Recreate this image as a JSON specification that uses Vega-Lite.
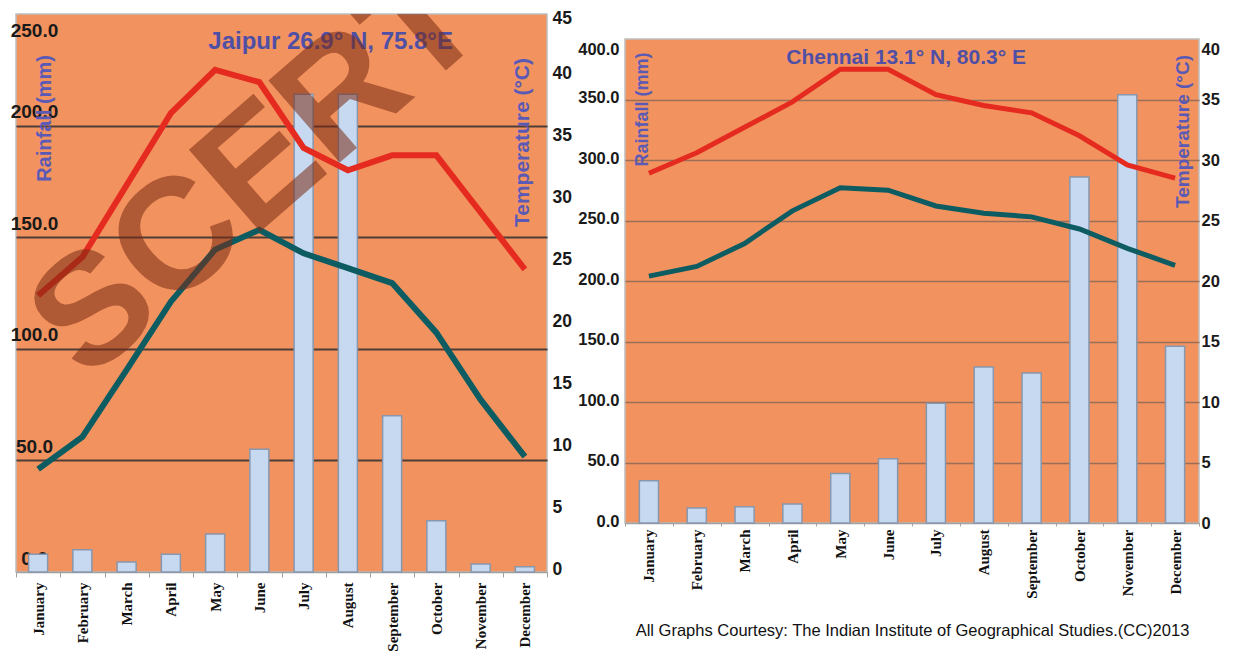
{
  "$schema": "https://vega.github.io/schema/vega-lite/v6.json",
  "background": "white",
  "padding": {"left": 8, "top": 8, "right": 5, "bottom": 0},
  "spacing": 3,
  "datasets": {
    "jaipur": [
      {"month": "January", "rain": 8, "tmax": 22.3, "tmin": 8.3},
      {"month": "February", "rain": 10, "tmax": 25.4, "tmin": 10.9},
      {"month": "March", "rain": 4.5, "tmax": 31.2, "tmin": 16.3},
      {"month": "April", "rain": 8, "tmax": 37.0, "tmin": 21.8},
      {"month": "May", "rain": 17, "tmax": 40.5, "tmin": 26.0},
      {"month": "June", "rain": 55, "tmax": 39.5, "tmin": 27.6},
      {"month": "July", "rain": 214, "tmax": 34.2, "tmin": 25.7},
      {"month": "August", "rain": 214, "tmax": 32.4, "tmin": 24.5},
      {"month": "September", "rain": 70, "tmax": 33.6, "tmin": 23.3},
      {"month": "October", "rain": 23, "tmax": 33.6, "tmin": 19.3},
      {"month": "November", "rain": 3.6, "tmax": 29.0, "tmin": 13.9},
      {"month": "December", "rain": 2.4, "tmax": 24.4, "tmin": 9.3}
    ],
    "chennai": [
      {"month": "January", "rain": 35, "tmax": 28.9, "tmin": 20.4},
      {"month": "February", "rain": 12.5, "tmax": 30.6, "tmin": 21.2},
      {"month": "March", "rain": 13.5, "tmax": 32.7, "tmin": 23.1},
      {"month": "April", "rain": 15.6, "tmax": 34.8, "tmin": 25.8},
      {"month": "May", "rain": 41, "tmax": 37.5, "tmin": 27.7},
      {"month": "June", "rain": 53, "tmax": 37.5, "tmin": 27.5},
      {"month": "July", "rain": 99, "tmax": 35.4, "tmin": 26.2},
      {"month": "August", "rain": 129, "tmax": 34.5, "tmin": 25.6},
      {"month": "September", "rain": 124, "tmax": 33.9, "tmin": 25.3},
      {"month": "October", "rain": 286, "tmax": 32.0, "tmin": 24.3},
      {"month": "November", "rain": 354, "tmax": 29.6, "tmin": 22.7},
      {"month": "December", "rain": 146, "tmax": 28.5, "tmin": 21.3}
    ]
  },
  "hconcat": [
    {
      "width": 531,
      "height": 558,
      "data": {"name": "jaipur"},
      "encoding": {
        "x": {
          "field": "month",
          "type": "nominal",
          "scale": {"domain": ["January","February","March","April","May","June","July","August","September","October","November","December"], "paddingInner": 0, "paddingOuter": 0},
          "axis": {
            "title": null,
            "labelAngle": -90,
            "labelFont": "Liberation Serif",
            "labelFontWeight": "bold",
            "labelFontSize": 15,
            "labelColor": "#111111",
            "labelPadding": 5,
            "ticks": true,
            "tickBand": "extent",
            "tickSize": 5,
            "tickColor": "#a0a0a0",
            "domainColor": "#a0a0a0",
            "domainWidth": 1.5,
            "grid": false
          }
        }
      },
      "layer": [
        {
          "mark": {"type": "bar", "fill": "#c6d9f1", "stroke": "#8797ae", "strokeWidth": 1.5, "width": {"band": 0.43}},
          "encoding": {
            "y": {
              "field": "rain",
              "type": "quantitative",
              "scale": {"domain": [0, 250], "nice": false},
              "axis": {
                "orient": "left",
                "values": [0, 50, 100, 150, 200, 250],
                "format": ".1f",
                "ticks": false,
                "domain": false,
                "grid": true,
                "gridColor": {"condition": {"test": "datum.value === 0 || datum.value === 250", "value": "transparent"}, "value": "#4f3e36"},
                "gridWidth": 2,
                "labelAlign": "center",
                "labelPadding": -18,
                "labelBaseline": "middle",
                "labelOffset": {"condition": {"test": "datum.value === 250", "value": 16}, "value": -14},
                "labelFont": "Liberation Sans",
                "labelFontWeight": "bold",
                "labelFontSize": 19,
                "labelColor": "#1a1a1a",
                "title": "Rainfall (mm)",
                "titleX": 28,
                "titleY": 104,
                "titleAngle": -90,
                "titleAlign": "center",
                "titleBaseline": "middle",
                "titleFont": "Liberation Sans",
                "titleFontSize": 20,
                "titleFontWeight": "bold",
                "titleColor": "#5a5ab6"
              }
            }
          }
        },
        {
          "transform": [{"fold": ["tmax", "tmin"], "as": ["series", "temp"]}],
          "mark": {"type": "line", "strokeWidth": 6},
          "encoding": {
            "y": {
              "field": "temp",
              "type": "quantitative",
              "scale": {"domain": [0, 45], "nice": false},
              "axis": {
                "orient": "right",
                "values": [0, 5, 10, 15, 20, 25, 30, 35, 40, 45],
                "format": "d",
                "ticks": false,
                "domain": false,
                "grid": false,
                "labelAlign": "left",
                "labelPadding": 5,
                "labelBaseline": "middle",
                "labelOffset": {"condition": {"test": "datum.value === 45", "value": 4}, "value": -3},
                "labelFont": "Liberation Sans",
                "labelFontWeight": "bold",
                "labelFontSize": 17.5,
                "labelColor": "#1a1a1a",
                "title": "Temperature  (°C)",
                "titleX": -25,
                "titleY": 128,
                "titleAngle": -90,
                "titleAlign": "center",
                "titleBaseline": "middle",
                "titleFont": "Liberation Sans",
                "titleFontSize": 21,
                "titleFontWeight": "bold",
                "titleColor": "#5a5ab6"
              }
            },
            "color": {
              "field": "series",
              "type": "nominal",
              "scale": {"domain": ["tmax", "tmin"], "range": ["#e52b1f", "#0d5c62"]},
              "legend": null
            }
          }
        },
        {
          "data": {"values": [{}]},
          "mark": {
            "type": "text",
            "text": "Jaipur 26.9° N, 75.8°E",
            "font": "Liberation Sans",
            "fontSize": 24,
            "fontWeight": "bold",
            "align": "center",
            "baseline": "middle",
            "fill": "#4f4fa6",
            "dx": 27
          },
          "encoding": {
            "x": {"datum": "July"},
            "y": {"datum": 237.5, "scale": {"domain": [0, 250], "nice": false}, "axis": null}
          }
        },
        {
          "data": {"values": [{}]},
          "mark": {
            "type": "text",
            "text": "SCERT",
            "font": "Liberation Sans",
            "fontSize": 158,
            "fontWeight": "bold",
            "angle": -41,
            "align": "center",
            "baseline": "middle",
            "fill": "#7a2a14",
            "opacity": 0.55,
            "dx": -2,
            "clip": true
          },
          "encoding": {
            "x": {"datum": "June"},
            "y": {"datum": 180, "scale": {"domain": [0, 250], "nice": false}, "axis": null}
          }
        }
      ],
      "resolve": {"scale": {"y": "independent", "color": "independent"}}
    },
    {
      "spacing": 20,
      "vconcat": [
        {
          "width": 574,
          "height": 4,
          "view": {"fill": null, "stroke": null},
          "data": {"values": []},
          "mark": {"type": "rule"},
          "encoding": {}
        },
        {
          "width": 574,
          "height": 484,
          "data": {"name": "chennai"},
          "encoding": {
            "x": {
              "field": "month",
              "type": "nominal",
              "scale": {"domain": ["January","February","March","April","May","June","July","August","September","October","November","December"], "paddingInner": 0, "paddingOuter": 0},
              "axis": {
                "title": "All Graphs Courtesy:  The Indian Institute of Geographical Studies.(CC)2013",
                "titleFont": "Liberation Sans",
                "titleFontSize": 16.5,
                "titleFontWeight": "normal",
                "titleColor": "#111111",
                "titlePadding": 24,
                "labelAngle": -90,
                "labelFont": "Liberation Serif",
                "labelFontWeight": "bold",
                "labelFontSize": 15,
                "labelColor": "#111111",
                "labelPadding": 3,
                "ticks": true,
                "tickBand": "extent",
                "tickSize": 3,
                "tickColor": "#a0a0a0",
                "domainColor": "#a0a0a0",
                "domainWidth": 1.5,
                "grid": false
              }
            }
          },
          "layer": [
            {
              "mark": {"type": "bar", "fill": "#c6d9f1", "stroke": "#8797ae", "strokeWidth": 1.5, "width": {"band": 0.4}},
              "encoding": {
                "y": {
                  "field": "rain",
                  "type": "quantitative",
                  "scale": {"domain": [0, 400], "nice": false},
                  "axis": {
                    "orient": "left",
                    "values": [0, 50, 100, 150, 200, 250, 300, 350, 400],
                    "format": ".1f",
                    "ticks": false,
                    "domain": false,
                    "grid": true,
                    "gridColor": {"condition": {"test": "datum.value === 0 || datum.value === 400", "value": "transparent"}, "value": "#9a6f5a"},
                    "gridWidth": 1.5,
                    "labelAlign": "right",
                    "labelPadding": 6,
                    "labelBaseline": "middle",
                    "labelOffset": {"condition": {"test": "datum.value === 400", "value": 10}, "value": -2},
                    "labelFont": "Liberation Sans",
                    "labelFontWeight": "bold",
                    "labelFontSize": 16.5,
                    "labelColor": "#1a1a1a",
                    "title": "Rainfall (mm)",
                    "titleX": 17,
                    "titleY": 70,
                    "titleAngle": -90,
                    "titleAlign": "center",
                    "titleBaseline": "middle",
                    "titleFont": "Liberation Sans",
                    "titleFontSize": 18,
                    "titleFontWeight": "bold",
                    "titleColor": "#5a5ab6"
                  }
                }
              }
            },
            {
              "transform": [{"fold": ["tmax", "tmin"], "as": ["series", "temp"]}],
              "mark": {"type": "line", "strokeWidth": 5},
              "encoding": {
                "y": {
                  "field": "temp",
                  "type": "quantitative",
                  "scale": {"domain": [0, 40], "nice": false},
                  "axis": {
                    "orient": "right",
                    "values": [0, 5, 10, 15, 20, 25, 30, 35, 40],
                    "format": "d",
                    "ticks": false,
                    "domain": false,
                    "grid": false,
                    "labelAlign": "left",
                    "labelPadding": 2,
                    "labelBaseline": "middle",
                    "labelOffset": {"condition": {"test": "datum.value === 40", "value": 10}, "value": 0},
                    "labelFont": "Liberation Sans",
                    "labelFontWeight": "bold",
                    "labelFontSize": 16.5,
                    "labelColor": "#1a1a1a",
                    "title": "Temperature  (°C)",
                    "titleX": -17,
                    "titleY": 92,
                    "titleAngle": -90,
                    "titleAlign": "center",
                    "titleBaseline": "middle",
                    "titleFont": "Liberation Sans",
                    "titleFontSize": 19,
                    "titleFontWeight": "bold",
                    "titleColor": "#5a5ab6"
                  }
                },
                "color": {
                  "field": "series",
                  "type": "nominal",
                  "scale": {"domain": ["tmax", "tmin"], "range": ["#e52b1f", "#0d5c62"]},
                  "legend": null
                }
              }
            },
            {
              "data": {"values": [{}]},
              "mark": {
                "type": "text",
                "text": "Chennai 13.1° N, 80.3° E",
                "font": "Liberation Sans",
                "fontSize": 21,
                "fontWeight": "bold",
                "align": "center",
                "baseline": "middle",
                "fill": "#4f4fa6",
                "dx": 18
              },
              "encoding": {
                "x": {"datum": "June"},
                "y": {"datum": 384, "scale": {"domain": [0, 400], "nice": false}, "axis": null}
              }
            }
          ],
          "resolve": {"scale": {"y": "independent", "color": "independent"}}
        }
      ]
    }
  ],
  "config": {
    "view": {"fill": "#f2935f", "stroke": "#bdbdbd", "strokeWidth": 1.5},
    "axis": {"labelOverlap": false, "labelFlush": false}
  }
}
